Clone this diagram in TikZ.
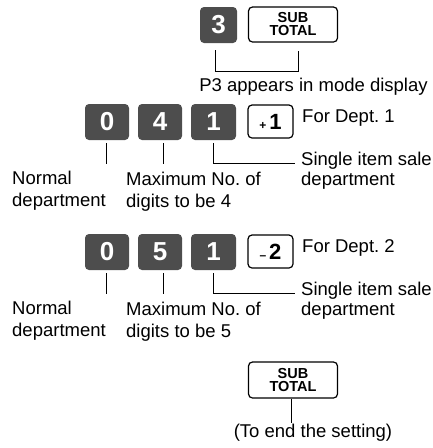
\documentclass[tikz,border=0pt]{standalone}
\usepackage{fontspec}
\setmainfont{Liberation Sans}
\usetikzlibrary{calc}
\definecolor{keygray}{HTML}{4D4D4D}
\frenchspacing
\begin{document}
\begin{tikzpicture}[x=1pt,y=1pt,
  numkey/.style={fill=keygray, rounded corners=4pt, minimum width=44pt, minimum height=36pt, inner sep=0pt, text=white, font=\fontsize{26}{26}\selectfont\bfseries},
  fnkey/.style={draw=black, line width=1.2pt, rounded corners=4pt, inner sep=0pt, fill=white, align=center},
  subkey/.style={fnkey, minimum width=89pt, minimum height=35pt, font=\fontsize{14.5}{13}\selectfont\bfseries},
  lbl/.style={font=\fontsize{18.5}{22}\selectfont, inner sep=0pt, align=left},
  conn/.style={draw=black, line width=0.8pt}
]
\useasboundingbox (0,0) rectangle (432,-448);

% ---- top: 3 SUBTOTAL
\node[numkey, minimum width=37pt] (key3) at (218.5,-25) {3};
\node[subkey] (sub1) at (293,-24.5) {SUB\\TOTAL};
\coordinate (b1) at ($(key3.south)+(-3.5,-7)$);
\coordinate (b2) at ($(sub1.south)+(5,-8)$);
\draw[conn] (b1) |- ($(b2)+(0,-21)$) -- (b2);
\node[lbl, anchor=base] (p3) at (313.5,-91) {P3 appears in mode display};

% ---- row 1
\node[numkey] (r1a) at (107,-122) {0};
\node[numkey] (r1b) at (160,-122) {4};
\node[numkey, minimum width=45pt] (r1c) at (213.5,-122) {1};
\node[fnkey, minimum width=45pt, minimum height=33pt] (r1d) at (270.5,-121.5)
  {\raisebox{0pt}{\fontsize{12}{12}\selectfont\bfseries +}\hspace{3pt}{\fontsize{22}{22}\selectfont\bfseries 1}};
\node[lbl, anchor=base west] (r1for) at (302,-122) {For Dept. 1};
\node[lbl, anchor=base west] (r1norm) at (12,-206) {Normal\\department};
\node[lbl, anchor=base west] (r1max) at (126,-207) {Maximum No. of\\digits to be 4};
\node[lbl, anchor=base west, font=\fontsize{18.5}{20}\selectfont] (r1sing) at (301,-185) {Single item sale\\department};
\coordinate (r1h) at (295,-163);
\draw[conn] ($(r1a.south)+(-1,-3)$) -- ++(0,-21);
\draw[conn] ($(r1b.south)+(3.5,-3)$) -- ++(0,-21);
\draw[conn] ($(r1c.south)+(0,-3)$) |- (r1h);

% ---- row 2
\node[numkey] (r2a) at (107,-252) {0};
\node[numkey] (r2b) at (160,-252) {5};
\node[numkey, minimum width=45pt] (r2c) at (213.5,-252) {1};
\node[fnkey, minimum width=45pt, minimum height=33pt] (r2d) at (270.5,-251.5)
  {\raisebox{0pt}{\fontsize{12}{12}\selectfont\bfseries --}\hspace{3pt}{\fontsize{22}{22}\selectfont\bfseries 2}};
\node[lbl, anchor=base west] (r2for) at (302,-252) {For Dept. 2};
\node[lbl, anchor=base west] (r2norm) at (12,-336) {Normal\\department};
\node[lbl, anchor=base west] (r2max) at (126,-337) {Maximum No. of\\digits to be 5};
\node[lbl, anchor=base west, font=\fontsize{18.5}{20}\selectfont] (r2sing) at (301,-315) {Single item sale\\department};
\coordinate (r2h) at (295,-293);
\draw[conn] ($(r2a.south)+(-1,-3)$) -- ++(0,-21);
\draw[conn] ($(r2b.south)+(3.5,-3)$) -- ++(0,-21);
\draw[conn] ($(r2c.south)+(0,-3)$) |- (r2h);

% ---- bottom
\node[subkey, minimum height=36pt] (sub2) at (293,-380) {SUB\\TOTAL};
\node[lbl, anchor=base] (endtxt) at (313,-437) {(To end the setting)};
\coordinate (e1) at ($(sub2.south)+(-2,-24)$);
\draw[conn] ($(sub2.south)+(-2,0)$) -- (e1);
\end{tikzpicture}
\end{document}
